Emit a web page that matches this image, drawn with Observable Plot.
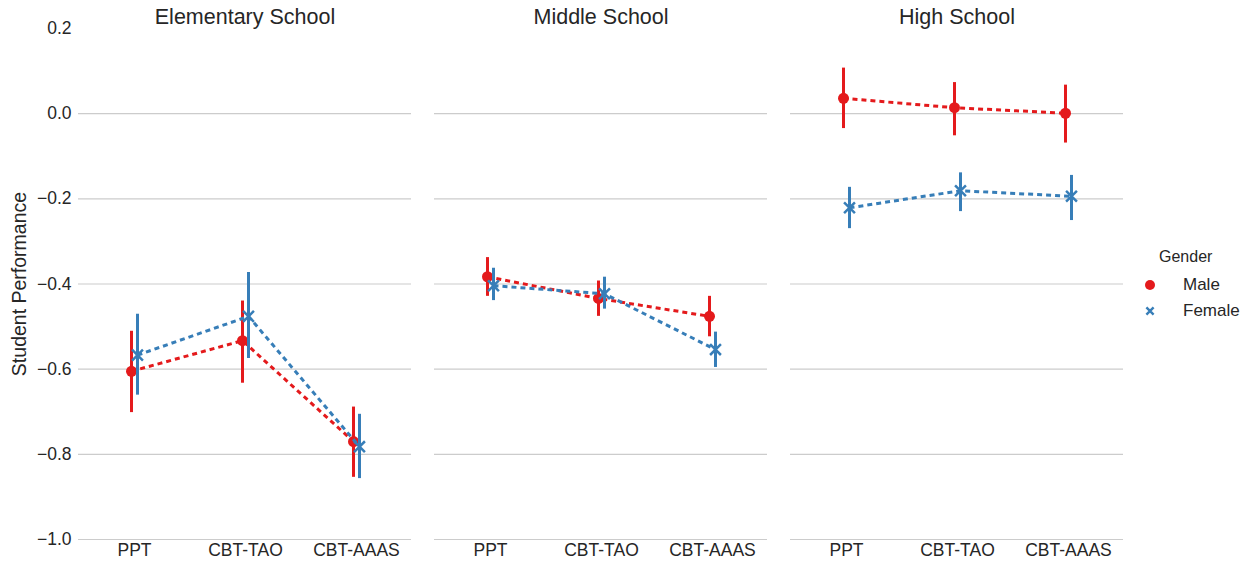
<!DOCTYPE html>
<html>
<head>
<meta charset="utf-8">
<script src="https://cdn.jsdelivr.net/npm/d3@7"></script>
<script src="https://cdn.jsdelivr.net/npm/@observablehq/plot@0.6"></script>
<style>
  html, body { margin: 0; padding: 0; background: #fff; }
  #wrap { position: relative; width: 1251px; height: 564px; font-family: "Liberation Sans", Arial, sans-serif; color: #262626; }
  #legend { position: absolute; left: 1140px; top: 248px; font-size: 17px; }
  #legend .title { font-size: 16px; margin-left: 19px; height: 24px; }
  #legend .row { display: flex; align-items: center; height: 26px; }
  #legend .row svg { width: 20px; height: 20px; margin-right: 23px; }
</style>
</head>
<body>
<div id="wrap"><div id="chart"></div><div id="legend"></div></div>
<script>
const schools = ["Elementary School", "Middle School", "High School"];
const tests = ["PPT", "CBT-TAO", "CBT-AAAS"];
const genders = ["Male", "Female"];
const yTicks = [0.2, 0.0, -0.2, -0.4, -0.6, -0.8, -1.0];

// mean, lower CI, upper CI per school, per test
const maleMean = [
  [-0.605, -0.533, -0.770],
  [-0.383, -0.434, -0.476],
  [0.036, 0.014, 0.001]
];
const maleLow = [
  [-0.702, -0.633, -0.854],
  [-0.429, -0.476, -0.524],
  [-0.035, -0.052, -0.069]
];
const maleHigh = [
  [-0.511, -0.440, -0.689],
  [-0.338, -0.393, -0.429],
  [0.107, 0.073, 0.067]
];
const femaleMean = [
  [-0.567, -0.476, -0.782],
  [-0.404, -0.423, -0.554],
  [-0.221, -0.181, -0.194]
];
const femaleLow = [
  [-0.661, -0.575, -0.857],
  [-0.439, -0.459, -0.596],
  [-0.270, -0.230, -0.251]
];
const femaleHigh = [
  [-0.471, -0.373, -0.706],
  [-0.363, -0.384, -0.513],
  [-0.173, -0.139, -0.145]
];

const colors = {Male: "#e41a1c", Female: "#377eb8"};

const rows = [];
schools.forEach((s, i) => tests.forEach((t, j) => {
  rows.push({school: s, test: t, gender: "Male", mean: maleMean[i][j], lo: maleLow[i][j], hi: maleHigh[i][j]});
  rows.push({school: s, test: t, gender: "Female", mean: femaleMean[i][j], lo: femaleLow[i][j], hi: femaleHigh[i][j]});
}));
const male = rows.filter(d => d.gender === "Male");
const female = rows.filter(d => d.gender === "Female");
const dodge = {Male: -3, Female: 3};

const gridTicks = yTicks.filter(v => v <= 0.0001);

function series(data, g) {
  return [
    Plot.line(data, {fx: "school", x: "test", y: "mean", z: "school", stroke: colors[g], strokeWidth: 3, strokeDasharray: "5,4", strokeLinecap: "butt", dx: dodge[g]}),
    Plot.ruleX(data, {fx: "school", x: "test", y1: "lo", y2: "hi", stroke: colors[g], strokeWidth: 3, dx: dodge[g]}),
    g === "Male"
      ? Plot.dot(data, {fx: "school", x: "test", y: "mean", fill: colors[g], r: 5.5, dx: dodge[g]})
      : Plot.dot(data, {fx: "school", x: "test", y: "mean", symbol: "times", stroke: colors[g], strokeWidth: 2.5, r: 5, dx: dodge[g]})
  ];
}

const chart = Plot.plot({
  width: 1251,
  height: 564,
  marginLeft: 77,
  marginRight: 128,
  marginTop: 28,
  marginBottom: 25,
  style: {fontFamily: '"Liberation Sans", Arial, sans-serif', color: "#262626", fontSize: "17px", background: "#fff"},
  fx: {domain: schools, paddingInner: 0.066, paddingOuter: 0},
  x: {domain: tests, type: "point", padding: 0.5},
  y: {domain: [-1.0, 0.2]},
  marks: [
    Plot.ruleY(gridTicks, {stroke: "#cccccc", strokeWidth: 1.2}),
    Plot.axisFx({anchor: "top", tickSize: 0, tickPadding: 5, label: null, fontSize: 21.5}),
    Plot.axisX({tickSize: 0, tickPadding: 4, label: null, fontSize: 17.5}),
    Plot.axisY({ticks: yTicks, tickSize: 0, tickPadding: 7, fontSize: 17.5, label: null,
      tickFormat: d => d3.format(".1f")(d).replace("-", "\u2212")}),
    Plot.axisY({ticks: [], tickSize: 0, fontSize: 19.5,
      label: "Student Performance", labelAnchor: "center", labelArrow: "none", labelOffset: 66}),
    ...series(male, "Male"),
    ...series(female, "Female")
  ]
});
document.getElementById("chart").appendChild(chart);

// Legend
const legend = document.getElementById("legend");
const title = document.createElement("div");
title.className = "title";
title.textContent = "Gender";
legend.appendChild(title);
genders.forEach(g => {
  const row = document.createElement("div");
  row.className = "row";
  const sw = g === "Male"
    ? `<svg viewBox="-10 -10 20 20"><circle r="5" fill="${colors[g]}"/></svg>`
    : `<svg viewBox="-10 -10 20 20"><path d="M-3.6,-3.6L3.6,3.6M-3.6,3.6L3.6,-3.6" stroke="${colors[g]}" stroke-width="2.4"/></svg>`;
  row.innerHTML = sw + `<span>${g}</span>`;
  legend.appendChild(row);
});
</script>
</body>
</html>
